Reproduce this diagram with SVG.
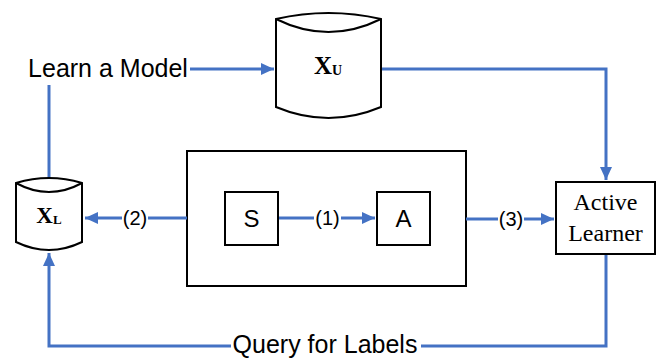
<svg xmlns="http://www.w3.org/2000/svg" width="664" height="358" viewBox="0 0 664 358">
<style>
.sh{fill:#fff;stroke:#000;stroke-width:2}
.cn{fill:none;stroke:#4472C4;stroke-width:3}
.sans{font-family:"Liberation Sans",Arial,sans-serif;fill:#000}
.serif{font-family:"Liberation Serif","Times New Roman",serif;fill:#000}
</style>
<defs>
<marker id="ah" markerUnits="userSpaceOnUse" markerWidth="14" markerHeight="14" viewBox="0 0 14 14" refX="13" refY="7" orient="auto">
<path d="M0,1 L13,7 L0,13 Z" fill="#4472C4"/>
</marker>
</defs>
<rect width="664" height="358" fill="#fff"/>
<g id="frame">
<rect class="sh" x="187" y="151" width="279" height="135"/>
</g>
<g id="connectors">
<path class="cn" d="M190,69 H274" marker-end="url(#ah)"/>
<path class="cn" d="M49,178 V85"/>
<path class="cn" d="M381,69 H606 V180" marker-end="url(#ah)"/>
<path class="cn" d="M278,218 H314"/>
<path class="cn" d="M341,218 H375" marker-end="url(#ah)"/>
<path class="cn" d="M187,218 H148"/>
<path class="cn" d="M122,218 H85" marker-end="url(#ah)"/>
<path class="cn" d="M466,219 H498"/>
<path class="cn" d="M524,219 H554" marker-end="url(#ah)"/>
<path class="cn" d="M606,254 V346 H421"/>
<path class="cn" d="M231,346 H49 V253" marker-end="url(#ah)"/>
<text class="sans" x="327.5" y="225" font-size="20" text-anchor="middle">(1)</text>
<text class="sans" x="135" y="225" font-size="20" text-anchor="middle">(2)</text>
<text class="sans" x="511" y="226" font-size="20" text-anchor="middle">(3)</text>
<text class="sans" x="325" y="353" font-size="25" text-anchor="middle">Query for Labels</text>
</g>
<g id="learn">
<text class="sans" x="108" y="77" font-size="25" text-anchor="middle">Learn a Model</text>
</g>
<g id="XU">
<path class="sh" d="M276,19 Q328.5,7 381,19 V107 Q328.5,129 276,107 Z"/>
<path class="sh" fill="none" d="M276,19 Q328.5,45 381,19"/>
<text class="serif" x="328" y="74" font-size="25" font-weight="bold" text-anchor="middle">X<tspan font-size="14" dy="1">U</tspan></text>
</g>
<g id="XL">
<path class="sh" d="M16,183 Q49,173 82,183 V242 Q49,258 16,242 Z"/>
<path class="sh" fill="none" d="M16,183 Q49,201 82,183"/>
<text class="serif" x="49" y="223" font-size="23" font-weight="bold" text-anchor="middle">X<tspan font-size="13" dy="1">L</tspan></text>
</g>
<g id="S">
<rect class="sh" x="225" y="192" width="53" height="53"/>
<text class="sans" x="251.5" y="227" font-size="24" text-anchor="middle">S</text>
</g>
<g id="A">
<rect class="sh" x="377" y="192" width="53" height="53"/>
<text class="sans" x="403.5" y="227" font-size="24" text-anchor="middle">A</text>
</g>
<g id="learner">
<rect class="sh" x="556" y="182" width="99" height="72"/>
<text class="serif" x="605.5" y="210" font-size="24" text-anchor="middle">Active</text>
<text class="serif" x="605.5" y="241" font-size="24" text-anchor="middle">Learner</text>
</g>
</svg>
